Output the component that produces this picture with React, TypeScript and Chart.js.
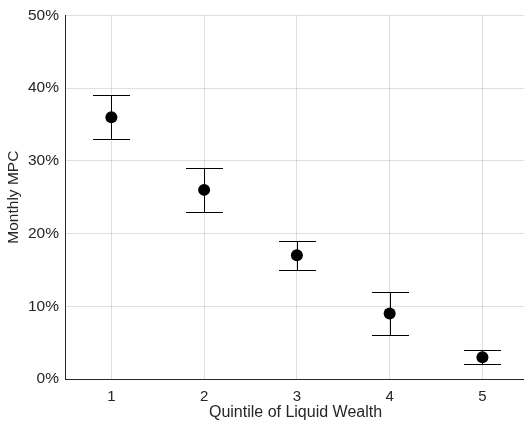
import React, { useEffect, useRef } from "react";
import { Chart, registerables } from "chart.js";

Chart.register(...registerables);

const quintiles = [1, 2, 3, 4, 5];
const mpc = [36, 26, 17, 9, 3];
const mpcLow = [33, 23, 15, 6, 2];
const mpcHigh = [39, 29, 19, 12, 4];
const yTicks = [0, 10, 20, 30, 40, 50];

const TEXT = "#262626";
const GRID = "rgba(0,0,0,0.12)";

const errorBars = {
  id: "errorBars",
  beforeDatasetsDraw(chart: any) {
    const { ctx, scales } = chart;
    const xs = scales.x;
    const ys = scales.y;
    ctx.save();
    ctx.strokeStyle = "#000";
    ctx.lineWidth = 1;
    quintiles.forEach((q, i) => {
      const x = Math.round(xs.getPixelForValue(q)) + 0.5;
      const yl = Math.round(ys.getPixelForValue(mpcLow[i])) + 0.5;
      const yh = Math.round(ys.getPixelForValue(mpcHigh[i])) + 0.5;
      const hw = 18.5;
      ctx.beginPath();
      ctx.moveTo(x, yl);
      ctx.lineTo(x, yh);
      ctx.moveTo(x - hw, yl);
      ctx.lineTo(x + hw, yl);
      ctx.moveTo(x - hw, yh);
      ctx.lineTo(x + hw, yh);
      ctx.stroke();
    });
    ctx.restore();
  },
};

export default function App() {
  const ref = useRef<HTMLCanvasElement>(null);
  useEffect(() => {
    if (!ref.current) return;
    Chart.defaults.font.family = "'Liberation Sans', Arial, sans-serif";
    Chart.defaults.color = TEXT;
    const chart = new Chart(ref.current, {
      type: "scatter",
      data: {
        datasets: [
          {
            data: quintiles.map((q, i) => ({ x: q, y: mpc[i] })),
            backgroundColor: "#000",
            borderColor: "#000",
            borderWidth: 0,
            pointRadius: 6,
          },
        ],
      },
      options: {
        animation: false,
        responsive: false,
        layout: { padding: { top: 14, left: 0, right: 0, bottom: 0 } },
        plugins: { legend: { display: false }, tooltip: { enabled: false } },
        scales: {
          x: {
            type: "linear",
            min: 0.5,
            max: 5.47,
            afterBuildTicks: (s: any) => {
              s.ticks = quintiles.map((v) => ({ value: v }));
            },
            afterFit: (s: any) => {
              s.height = 44;
            },
            grid: { color: GRID, drawTicks: false },
            border: { display: true, color: TEXT, width: 1 },
            ticks: { font: { size: 15 }, color: TEXT, padding: 9, callback: (v: any) => String(v) },
            title: {
              display: true,
              text: "Quintile of Liquid Wealth",
              font: { size: 16 },
              color: TEXT,
              padding: { top: 0, bottom: 0.5 },
            },
          },
          y: {
            min: 0,
            max: 50,
            afterBuildTicks: (s: any) => {
              s.ticks = yTicks.map((v) => ({ value: v }));
            },
            afterFit: (s: any) => {
              s.width = 65;
            },
            grid: { color: GRID, drawTicks: false },
            border: { display: true, color: TEXT, width: 1 },
            ticks: { font: { size: 15.5 }, color: TEXT, padding: 6, callback: (v: any) => v + "%" },
            title: {
              display: true,
              text: "Monthly MPC",
              font: { size: 15.5 },
              color: TEXT,
              padding: { top: 4.5, bottom: 0 },
            },
          },
        },
      },
      plugins: [errorBars],
    });
    return () => chart.destroy();
  }, []);
  return (
    <div style={{ position: "absolute", left: 0, top: 0, width: 524, height: 423, overflow: "hidden" }}>
      <canvas ref={ref} width={532} height={423} style={{ display: "block", width: 532, height: 423 }} />
    </div>
  );
}
